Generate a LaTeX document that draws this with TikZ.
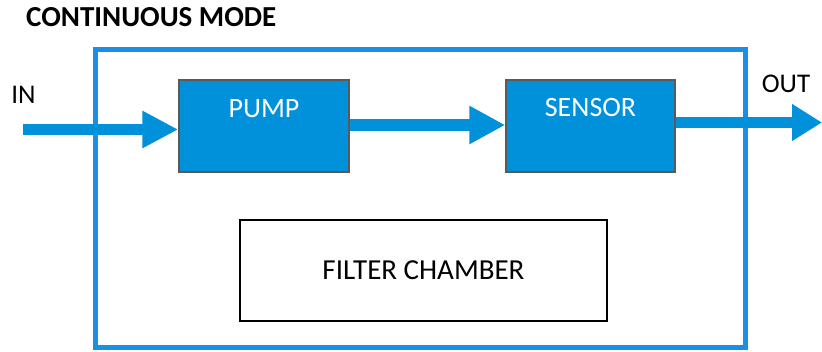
\documentclass[tikz,border=0pt]{standalone}
\usepackage{fontspec}
\setmainfont{Carlito}
\usetikzlibrary{arrows.meta}
\definecolor{flowblue}{HTML}{0091DA}
\definecolor{framblue}{HTML}{1A8FE6}
\definecolor{edgegray}{HTML}{5A5A5A}
\begin{document}
\begin{tikzpicture}[x=1pt,y=1pt,
  unitbox/.style={draw=edgegray, line width=1.5pt, fill=flowblue, minimum width=170pt, minimum height=92pt, inner sep=0pt},
  boxlabel/.style={text=white, font=\fontsize{28}{30}\selectfont, anchor=center},
  flow/.style={draw=flowblue, line width=11.5pt, -{Triangle[length=36pt, width=35pt]}},
  sidelabel/.style={font=\fontsize{27}{29}\selectfont, anchor=center, inner sep=0pt}]
\useasboundingbox (0,0) rectangle (822,351);
% title
\node[anchor=base west, inner sep=0pt, font=\bfseries\fontsize{29}{31}\selectfont] (title) at (26,324.3) {CONTINUOUS MODE};
% outer frame
\node[draw=framblue, line width=5pt, minimum width=650.5pt, minimum height=298pt, inner sep=0pt] (frame) at (420.25,152.5) {};
% units
\node[unitbox] (pump) at (264,225) {};
\node[boxlabel] (pumplabel) at (264,242) {PUMP};
\node[unitbox, minimum width=169pt] (sensor) at (590.5,225) {};
\node[boxlabel] (sensorlabel) at (590.5,243) {SENSOR};
\node[draw=black, line width=2pt, minimum width=367pt, minimum height=101pt, inner sep=0pt, font=\fontsize{29}{31}\selectfont] (filter) at (423.5,80.5) {FILTER CHAMBER};
% side labels
\node[sidelabel] (inlabel) at (23.5,256) {IN};
\node[sidelabel] (outlabel) at (786,267.5) {OUT};
% flows
\coordinate (inend) at (23,221.5);
\coordinate (outend) at (822,228.5);
\draw[flow] (inend) -- (pump.west |- inend);
\draw[flow, line width=12pt, -{Triangle[length=36pt, width=36pt]}] (pump.east |- 0,226) -- (sensor.west |- 0,226);
\draw[flow, -{Triangle[length=30pt, width=35pt]}] (sensor.east |- outend) -- (outend);
\end{tikzpicture}
\end{document}
